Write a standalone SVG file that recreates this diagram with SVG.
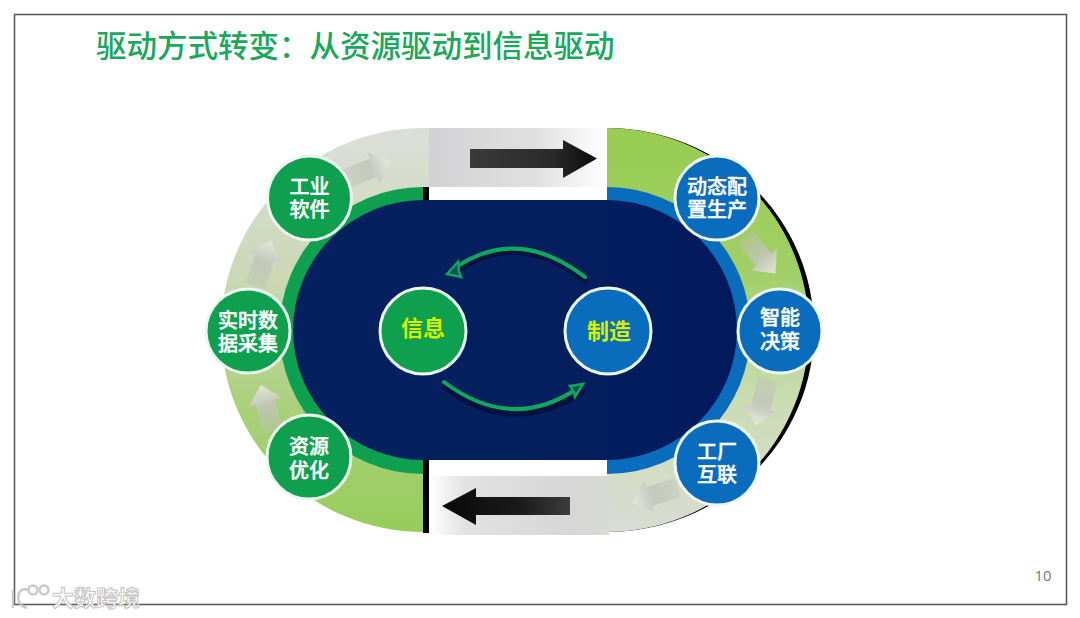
<svg xmlns="http://www.w3.org/2000/svg" width="1080" height="618" viewBox="0 0 1080 618">
<style>
.cjk{font-family:"Noto Sans CJK SC","Noto Sans",sans-serif}
.lbl{font-size:20px;font-weight:500;fill:#fff;stroke:#fff;stroke-width:.4;text-anchor:middle}
.core{font-size:22px;font-weight:700;fill:#d8f000;text-anchor:middle}
.ring{stroke:#eef7ee;stroke-width:3}
.g{fill:#0ea04f}
.b{fill:#0a6cbd}
.flow{fill:none;stroke:#10a65c;stroke-width:4;stroke-linecap:round}
.shadow{fill:none;stroke:#03123e;stroke-width:6;stroke-linecap:round}
</style>
<defs>
<linearGradient id="leftArc" x1="0" y1="128" x2="0" y2="532" gradientUnits="userSpaceOnUse"><stop offset="0" stop-color="#dcdfd8"/><stop offset=".35" stop-color="#ccd8b8"/><stop offset=".7" stop-color="#a8d078"/><stop offset="1" stop-color="#98cc5c"/></linearGradient>
<linearGradient id="rightArc" x1="0" y1="128" x2="0" y2="532" gradientUnits="userSpaceOnUse"><stop offset="0" stop-color="#98cc52"/><stop offset=".35" stop-color="#a0cf66"/><stop offset=".68" stop-color="#cbdcb4"/><stop offset="1" stop-color="#d9dcd4"/></linearGradient>
<linearGradient id="bandTop" x1="0" x2="1" y1="0" y2="0"><stop offset="0" stop-color="#d2d2d4"/><stop offset=".6" stop-color="#e0e0e0"/><stop offset=".93" stop-color="#fafafa"/><stop offset="1" stop-color="#fff"/></linearGradient>
<linearGradient id="bandBot" x1="0" x2="1" y1="0" y2="0"><stop offset="0" stop-color="#fff"/><stop offset=".2" stop-color="#e2e2e2"/><stop offset=".8" stop-color="#d6d6d6"/><stop offset="1" stop-color="#d8dad4"/></linearGradient>
<linearGradient id="navy" x1="0" x2="1" y1="0" y2="0"><stop offset="0" stop-color="#05205f"/><stop offset=".5" stop-color="#05205f"/><stop offset="1" stop-color="#021a5c"/></linearGradient>
<linearGradient id="bigR" x1="0" x2="1" y1="0" y2="0"><stop offset="0" stop-color="#3a3a3a"/><stop offset=".65" stop-color="#2a2a2a"/><stop offset="1" stop-color="#0a0a0a"/></linearGradient>
<linearGradient id="bigL" x1="0" x2="1" y1="0" y2="0"><stop offset="0" stop-color="#0a0a0a"/><stop offset=".6" stop-color="#1a1a1a"/><stop offset="1" stop-color="#3c3c3c"/></linearGradient>
<linearGradient id="soft" x1="0" x2="1" y1="0" y2="0"><stop offset="0" stop-color="#bcbfb4" stop-opacity=".35"/><stop offset=".55" stop-color="#c2c5bb" stop-opacity=".85"/><stop offset="1" stop-color="#e8e9e4" stop-opacity=".9"/></linearGradient>
<path id="soft-arrow" fill="url(#soft)" d="M-24-10H6V-17L24 0 6 17V10H-24Z"/>
</defs>
<rect width="1080" height="618" fill="#fff"/>
<rect x="14.500" y="14.500" width="1052" height="590" fill="#fff" stroke="#555" stroke-width="1.500"/>
<text class="cjk" x="96" y="57" font-size="30.500" font-weight="500" fill="#1aa85c">驱动方式转变：从资源驱动到信息驱动</text>
<text x="1043" y="581" font-family="'Open Sans','Liberation Sans',sans-serif" font-size="15" fill="#777" text-anchor="middle">10</text>

<g id="track">
<path d="M607 128A207 202 0 0 1 607 532Z" fill="#000"/>
<path d="M423 128A202 202 0 0 0 423 532H429V128Z" fill="url(#leftArc)"/>
<path d="M607 128A202 202 0 0 1 607 532Z" fill="url(#rightArc)"/>
<rect x="429" y="128" width="178" height="59" fill="url(#bandTop)"/>
<rect x="429" y="476" width="180" height="59" fill="url(#bandBot)"/>
<path d="M423 187A143 143 0 0 0 423 474Z" class="g"/>
<path d="M607 187A143 143 0 0 1 607 474Z" class="b"/>
<rect x="423" y="187" width="6" height="13" fill="#000"/>
<rect x="423" y="460" width="6" height="73" fill="#000"/>
<path d="M423 200H607A130 130 0 0 1 607 460H423A130 130 0 0 1 423 200Z" fill="url(#navy)"/>
</g>

<g id="connectors">
<path d="M470 149H563V140L597 158.500 563 178V168H470Z" fill="url(#bigR)"/>
<path d="M570 497H476V488L442 506 476 525V515H570Z" fill="url(#bigL)"/>
<use href="#soft-arrow" transform="translate(368 170) rotate(-22)"/>
<use href="#soft-arrow" transform="translate(263 263) rotate(-71)"/>
<use href="#soft-arrow" transform="translate(267 408) rotate(-105)"/>
<use href="#soft-arrow" transform="translate(760 255) rotate(50)"/>
<use href="#soft-arrow" transform="translate(762 402) rotate(105)"/>
<use href="#soft-arrow" transform="translate(655 495) rotate(162)"/>
<path class="shadow" d="M585 280Q516 227 452 274" stroke-width="4"/>
<path class="flow" d="M585 277Q516 224 452 270"/>
<path d="M447 274L458 262 459 272 461 277Z" fill="#0a4a5a" stroke="#10a65c" stroke-width="2.500"/>
<path class="shadow" d="M445 387Q512 438 582 392"/>
<path class="flow" d="M444 382Q512 433 578 388"/>
<path d="M583 384L570 386 574 392 575 397Z" fill="#0a4a5a" stroke="#10a65c" stroke-width="2.500"/>
</g>

<g id="node-gongye"><circle class="g ring" cx="309.500" cy="198" r="42"/><text class="cjk lbl"><tspan x="309.500" y="194">工业</tspan><tspan x="309.500" y="217">软件</tspan></text></g>
<g id="node-shishi"><circle class="g ring" cx="248" cy="331" r="42"/><text class="cjk lbl"><tspan x="248" y="328">实时数</tspan><tspan x="248" y="351">据采集</tspan></text></g>
<g id="node-ziyuan"><circle class="g ring" cx="309" cy="457" r="42"/><text class="cjk lbl"><tspan x="309" y="454">资源</tspan><tspan x="309" y="478">优化</tspan></text></g>
<g id="node-dongtai"><circle class="b ring" cx="717" cy="198" r="42"/><text class="cjk lbl"><tspan x="717" y="194">动态配</tspan><tspan x="717" y="217">置生产</tspan></text></g>
<g id="node-zhineng"><circle class="b ring" cx="780" cy="331" r="42"/><text class="cjk lbl"><tspan x="780" y="325">智能</tspan><tspan x="780" y="349">决策</tspan></text></g>
<g id="node-gongchang"><circle class="b ring" cx="717" cy="463" r="42"/><text class="cjk lbl"><tspan x="717" y="459">工厂</tspan><tspan x="717" y="482">互联</tspan></text></g>
<g id="node-xinxi"><circle class="g ring" cx="423" cy="331" r="43"/><text class="cjk core" x="423" y="336">信息</text></g>
<g id="node-zhizao"><circle class="b ring" cx="608" cy="331" r="43"/><text class="cjk core" x="609" y="339">制造</text></g>

<g id="watermark" opacity=".9">
<g fill="none" stroke="#c4c4c4" stroke-width="2.500">
<path d="M13 590V608"/><path d="M29 590C16 585 14 605 27 608"/>
<circle cx="33" cy="590" r="4.500"/><circle cx="44" cy="590" r="4.500"/>
</g>
<text class="cjk" x="52" y="606" font-size="22" font-weight="700" fill="#fff" stroke="#bdbdbd" stroke-width="1">大数跨境</text>
</g>
</svg>
